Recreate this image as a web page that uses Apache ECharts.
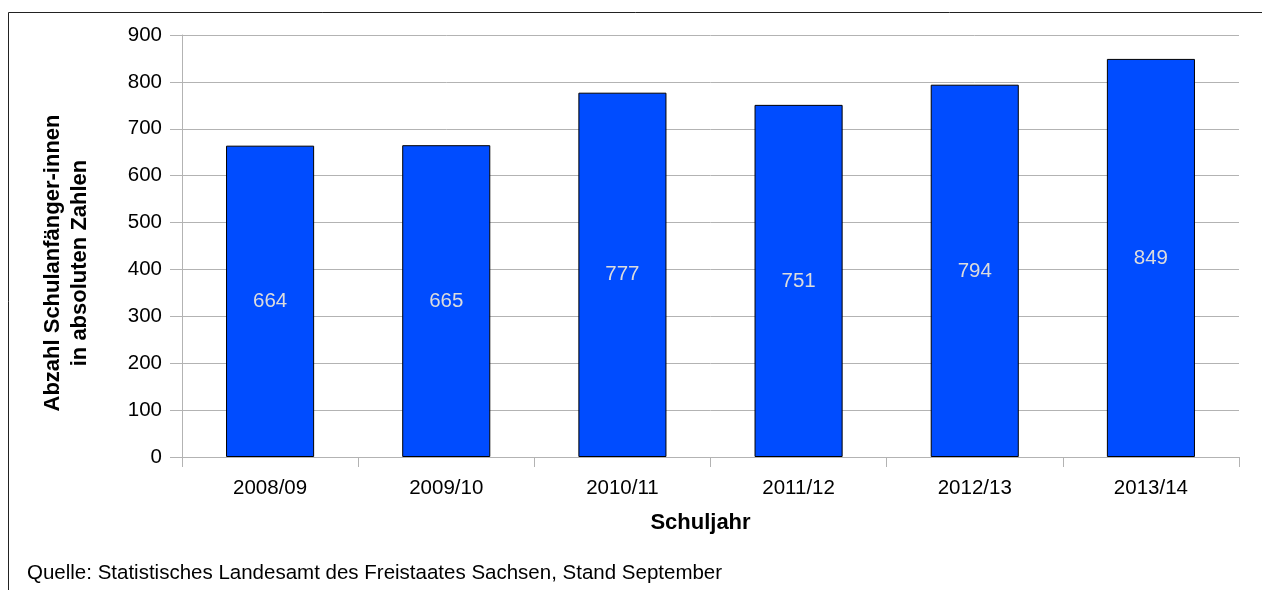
<!DOCTYPE html>
<html>
<head>
<meta charset="utf-8">
<script src="https://cdn.jsdelivr.net/npm/echarts@6/dist/echarts.min.js"></script>
<style>
  html, body { margin: 0; padding: 0; background: #fff; }
  #chart { width: 1262px; height: 590px; }
</style>
</head>
<body>
<div id="chart"></div>
<script>
  const schuljahre = ['2008/09', '2009/10', '2010/11', '2011/12', '2012/13', '2013/14'];
  const schulanfaenger = [664, 665, 777, 751, 794, 849];
  const yTicks = { min: 0, max: 900, interval: 100 };

  const font = '"Liberation Sans", Arial, sans-serif';
  const chart = echarts.init(document.getElementById('chart'));

  const option = {
    animation: false,
    grid: { left: 182, right: 23, top: 35, bottom: 133 },
    graphic: [
      {
        type: 'rect',
        shape: { x: 8.5, y: 12.5, width: 1400, height: 800 },
        style: { fill: 'none', stroke: '#222', lineWidth: 1 },
        silent: true,
      },
      {
        type: 'text',
        x: 66,
        y: 263,
        rotation: Math.PI / 2,
        style: {
          text: 'Abzahl Schulanfänger-innen\nin absoluten Zahlen',
          font: 'bold 22px ' + font,
          fill: '#000',
          align: 'center',
          verticalAlign: 'middle',
          lineHeight: 27,
        },
      },
      {
        type: 'text',
        left: 27,
        top: 563,
        style: {
          text: 'Quelle: Statistisches Landesamt des Freistaates Sachsen, Stand September',
          font: '20.5px ' + font,
          fill: '#000',
        },
      },
    ],
    xAxis: {
      type: 'category',
      data: schuljahre,
      name: 'Schuljahr',
      nameLocation: 'middle',
      nameGap: 55,
      nameTextStyle: { fontFamily: font, fontSize: 22, fontWeight: 'bold', color: '#000', padding: [0, 20, 0, 0] },
      axisLine: { lineStyle: { color: '#b3b3b3' } },
      axisTick: { show: true, length: 10, lineStyle: { color: '#b3b3b3' } },
      axisLabel: { fontFamily: font, fontSize: 20.5, color: '#000', margin: 21 },
    },
    yAxis: {
      type: 'value',
      min: yTicks.min,
      max: yTicks.max,
      interval: yTicks.interval,
      axisLine: { show: true, lineStyle: { color: '#b3b3b3' } },
      axisTick: { show: true, length: 12, lineStyle: { color: '#b3b3b3' } },
      splitLine: { lineStyle: { color: '#b3b3b3' } },
      axisLabel: { fontFamily: font, fontSize: 20.5, color: '#000', margin: 20 },
    },
    series: [
      {
        type: 'bar',
        data: schulanfaenger,
        barWidth: '50%',
        itemStyle: { color: '#004cff', borderColor: '#000', borderWidth: 1 },
        label: {
          show: true,
          position: 'inside',
          fontFamily: font,
          fontSize: 20.5,
          color: '#dcdcdc',
        },
      },
    ],
  };
  chart.setOption(option);
</script>
</body>
</html>
